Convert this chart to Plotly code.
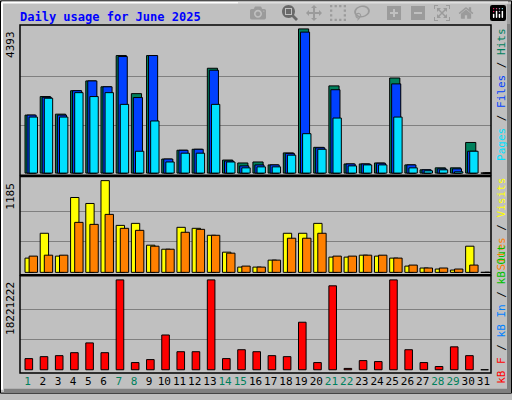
import plotly.graph_objects as go

days = list(range(1, 32))
weekend = {1, 7, 8, 14, 15, 21, 22, 28, 29}
hits  = [1767,2332,1796,2510,2808,2629,3581,2421,3581,428,696,726,3194,398,309,339,250,616,4393,785,2657,279,279,309,2897,250,100,160,160,933,0]
files = [1767,2310,1767,2510,2808,2629,3551,2302,3581,428,696,726,3135,368,220,250,250,600,4295,770,2540,279,279,300,2718,250,100,130,130,666,0]
pages = [1707,2281,1707,2451,2332,2451,2094,666,1588,339,607,607,2094,339,160,190,190,547,1201,726,1677,220,250,250,1707,160,70,100,40,666,0]
visits = [184,505,210,967,890,1185,607,633,351,299,582,569,479,261,68,68,158,505,505,633,197,197,222,210,184,81,56,43,30,338,0]
sites  = [210,222,222,646,620,749,569,543,338,299,518,556,479,248,81,68,158,441,441,505,210,210,222,222,184,94,56,56,43,94,0]
KMAX = 18221222
kbytes_frac = [0.124,0.146,0.157,0.190,0.299,0.190,1.0,0.080,0.113,0.387,0.201,0.201,1.0,0.124,0.223,0.201,0.157,0.146,0.529,0.080,0.934,0.015,0.102,0.091,1.0,0.223,0.080,0.036,0.255,0.157,0]
kbytes = [f * KMAX for f in kbytes_frac]
HMAX, VMAX = 4393, 1185

fig = go.Figure()
def bar(y, color, off, w, ax):
    fig.add_trace(go.Bar(x=days, y=y, offset=off, width=w, marker_color=color,
                         marker_line_color="black", marker_line_width=1,
                         xaxis="x", yaxis=ax, showlegend=False, hoverinfo="skip"))
bar(hits, "#00805c", -0.17, 0.67, "y3")
bar(files, "#0040ff", -0.04, 0.6, "y3")
bar(pages, "#00e0ff", 0.1, 0.55, "y3")
bar(visits, "#ffff00", -0.17, 0.55, "y2")
bar(sites, "#ff8000", 0.1, 0.55, "y2")
bar(kbytes, "#ff0000", -0.17, 0.5, "y")

ticktext = [f'<span style="color:#00805c">{d}</span>' if d in weekend else str(d) for d in days]
axcommon = dict(showgrid=True, gridcolor="#808080", gridwidth=1, zeroline=False,
                showticklabels=False, ticks="", showline=False)
fig.update_layout(
    width=512, height=400, margin=dict(l=20, r=21, t=25, b=21),
    paper_bgcolor="#c0c0c0", plot_bgcolor="#c0c0c0", barmode="overlay",
    font=dict(family="DejaVu Sans Mono", size=11, color="black"),
    xaxis=dict(range=[0.5, 31.5], tickvals=days, ticktext=ticktext, showgrid=False,
               ticks="", showline=False, zeroline=False, tickangle=0,
               tickfont=dict(size=11)),
    yaxis=dict(domain=[0, 0.2797], range=[-0.036*KMAX, 1.047*KMAX],
               tickvals=[KMAX/3, 2*KMAX/3], **axcommon),
    yaxis2=dict(domain=[0.2825, 0.565], range=[-30, 1240],
                tickvals=[VMAX/3, 2*VMAX/3], **axcommon),
    yaxis3=dict(domain=[0.568, 1], range=[-68, 4512],
                tickvals=[HMAX/3, 2*HMAX/3], **axcommon),
)
for y0, y1 in [(0, 0.2797), (0.2825, 0.565), (0.568, 1)]:
    fig.add_shape(type="rect", xref="paper", yref="paper", x0=0, x1=1, y0=y0, y1=y1,
                  line=dict(color="black", width=1.5))

def px(x): return (x - 20) / 471
def py(y): return (379 - y) / 354
fig.add_shape(type="rect", xref="paper", yref="paper", x0=px(0.5), x1=px(511.5), y0=py(399.5), y1=py(0.5),
              line=dict(color="black", width=1), layer="below")
fig.add_shape(type="line", xref="paper", yref="paper", x0=px(2), x1=px(508), y0=py(2), y1=py(2),
              line=dict(color="white", width=2))
fig.add_shape(type="line", xref="paper", yref="paper", x0=px(2), x1=px(2), y0=py(2), y1=py(396),
              line=dict(color="white", width=2))
fig.add_shape(type="line", xref="paper", yref="paper", x0=px(509), x1=px(509), y0=py(4), y1=py(397),
              line=dict(color="#808080", width=4))
fig.add_shape(type="line", xref="paper", yref="paper", x0=px(4), x1=px(511), y0=py(397), y1=py(397),
              line=dict(color="#808080", width=4))

fig.add_annotation(xref="paper", yref="paper", x=px(18), y=py(8), xanchor="left", yanchor="top",
                   text="<b>Daily usage for June 2025</b>", showarrow=False,
                   font=dict(color="#0000ff", size=12, family="DejaVu Sans Mono"))
for lab, ax, val in [("4393", "y3", HMAX), ("1185", "y2", VMAX), ("18221222", "y", KMAX)]:
    fig.add_annotation(xref="paper", yref=ax, x=px(19), y=val, xanchor="right", yanchor="top",
                       text=lab, textangle=-90, showarrow=False, font=dict(size=11))

G = '<span style="color:black"> / </span>'
fig.add_annotation(xref="paper", yref="paper", x=px(493), y=py(26), xanchor="left", yanchor="top",
                   textangle=-90, showarrow=False, font=dict(size=11),
                   text='<span style="color:#00e0ff">Pages</span>' + G + '<span style="color:#0040ff">Files</span>' + G + '<span style="color:#00805c">Hits</span>')
fig.add_annotation(xref="paper", yref="paper", x=px(493), y=py(178), xanchor="left", yanchor="top",
                   textangle=-90, showarrow=False, font=dict(size=11),
                   text='<span style="color:#ff8000">Sites</span>' + G + '<span style="color:#ffff00">Visits</span>')
fig.add_annotation(xref="paper", yref="paper", x=px(493), y=py(392), xanchor="left", yanchor="bottom",
                   textangle=-90, showarrow=False, font=dict(size=11),
                   text='<span style="color:#ff0000">kB F</span>' + G + '<span style="color:#0080ff">kB In</span>' + G + '<span style="color:#00c000">kB Out</span>')

fig.write_html("out.html", post_script="document.body.style.margin='0';")
